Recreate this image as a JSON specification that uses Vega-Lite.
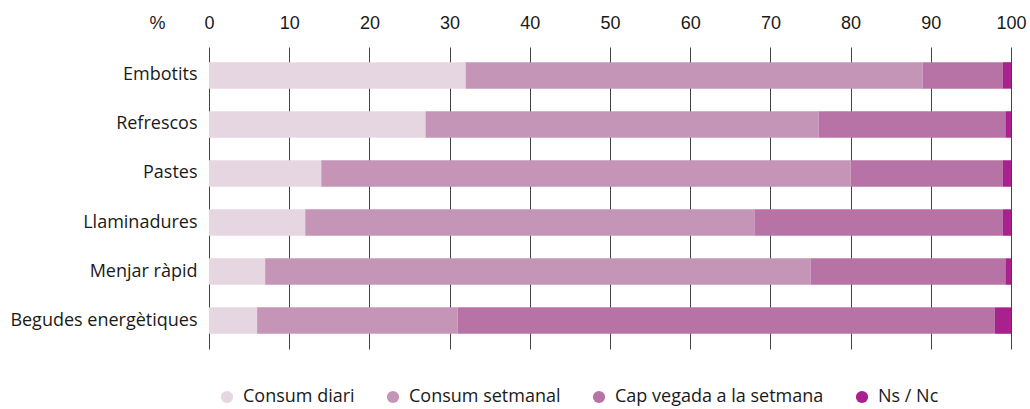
{
  "$schema": "https://vega.github.io/schema/vega-lite/v6.json",
  "autosize": "none",
  "width": 802,
  "height": 302,
  "padding": {"left": 209, "top": 47, "right": 19, "bottom": 60},
  "background": "white",
  "data": {
    "values": [
      {"categoria": "Embotits", "resposta": "Consum diari", "ordre": 1, "valor": 32},
      {"categoria": "Embotits", "resposta": "Consum setmanal", "ordre": 2, "valor": 57},
      {"categoria": "Embotits", "resposta": "Cap vegada a la setmana", "ordre": 3, "valor": 10},
      {"categoria": "Embotits", "resposta": "Ns / Nc", "ordre": 4, "valor": 1},
      {"categoria": "Refrescos", "resposta": "Consum diari", "ordre": 1, "valor": 27},
      {"categoria": "Refrescos", "resposta": "Consum setmanal", "ordre": 2, "valor": 49},
      {"categoria": "Refrescos", "resposta": "Cap vegada a la setmana", "ordre": 3, "valor": 23.3},
      {"categoria": "Refrescos", "resposta": "Ns / Nc", "ordre": 4, "valor": 0.7},
      {"categoria": "Pastes", "resposta": "Consum diari", "ordre": 1, "valor": 14},
      {"categoria": "Pastes", "resposta": "Consum setmanal", "ordre": 2, "valor": 66},
      {"categoria": "Pastes", "resposta": "Cap vegada a la setmana", "ordre": 3, "valor": 19},
      {"categoria": "Pastes", "resposta": "Ns / Nc", "ordre": 4, "valor": 1},
      {"categoria": "Llaminadures", "resposta": "Consum diari", "ordre": 1, "valor": 12},
      {"categoria": "Llaminadures", "resposta": "Consum setmanal", "ordre": 2, "valor": 56},
      {"categoria": "Llaminadures", "resposta": "Cap vegada a la setmana", "ordre": 3, "valor": 31},
      {"categoria": "Llaminadures", "resposta": "Ns / Nc", "ordre": 4, "valor": 1},
      {"categoria": "Menjar ràpid", "resposta": "Consum diari", "ordre": 1, "valor": 7},
      {"categoria": "Menjar ràpid", "resposta": "Consum setmanal", "ordre": 2, "valor": 68},
      {"categoria": "Menjar ràpid", "resposta": "Cap vegada a la setmana", "ordre": 3, "valor": 24.3},
      {"categoria": "Menjar ràpid", "resposta": "Ns / Nc", "ordre": 4, "valor": 0.7},
      {"categoria": "Begudes energètiques", "resposta": "Consum diari", "ordre": 1, "valor": 6},
      {"categoria": "Begudes energètiques", "resposta": "Consum setmanal", "ordre": 2, "valor": 25},
      {"categoria": "Begudes energètiques", "resposta": "Cap vegada a la setmana", "ordre": 3, "valor": 67},
      {"categoria": "Begudes energètiques", "resposta": "Ns / Nc", "ordre": 4, "valor": 2}
    ]
  },
  "mark": {"type": "bar"},
  "encoding": {
    "y": {
      "field": "categoria",
      "type": "nominal",
      "sort": ["Embotits", "Refrescos", "Pastes", "Llaminadures", "Menjar ràpid", "Begudes energètiques"],
      "scale": {"paddingInner": 0.46, "paddingOuter": 0.31},
      "axis": {
        "title": null,
        "domain": false,
        "ticks": false,
        "tickSize": 0,
        "labelPadding": 12,
        "labelFont": "Open Sans",
        "labelFontSize": 18,
        "labelLimit": 0,
        "labelColor": "#1a1a1a",
        "grid": false
      }
    },
    "x": {
      "field": "valor",
      "type": "quantitative",
      "stack": "zero",
      "scale": {"domain": [0, 100], "nice": false},
      "axis": {
        "orient": "top",
        "values": [0, 10, 20, 30, 40, 50, 60, 70, 80, 90, 100],
        "title": "%",
        "titleFont": "Liberation Sans",
        "titleFontSize": 18,
        "titleFontWeight": "normal",
        "titleColor": "#1a1a1a",
        "titleAngle": 0,
        "titleAlign": "center",
        "titleBaseline": "middle",
        "titleX": -52,
        "titleY": -24,
        "domain": false,
        "ticks": false,
        "tickSize": 0,
        "labelPadding": 15,
        "labelFont": "Liberation Sans",
        "labelFontSize": 18,
        "labelColor": "#1a1a1a",
        "labelFlush": false,
        "grid": true,
        "gridColor": "#444444",
        "gridWidth": 1,
        "gridOpacity": 1
      }
    },
    "color": {
      "field": "resposta",
      "type": "nominal",
      "scale": {
        "domain": ["Consum diari", "Consum setmanal", "Cap vegada a la setmana", "Ns / Nc"],
        "range": ["#e6d6e2", "#c595b8", "#b873a6", "#a8218e"]
      },
      "legend": {
        "title": null,
        "orient": "none",
        "direction": "horizontal",
        "legendX": 9,
        "legendY": 341,
        "symbolType": "circle",
        "symbolSize": 150,
        "symbolOpacity": 1,
        "symbolStrokeWidth": 0,
        "labelFont": "Open Sans",
        "labelFontSize": 18,
        "labelLimit": 0,
        "labelColor": "#1a1a1a",
        "labelOffset": 7,
        "columnPadding": 29
      }
    },
    "order": {"field": "ordre", "type": "quantitative"}
  },
  "config": {
    "view": {"stroke": null}
  }
}
